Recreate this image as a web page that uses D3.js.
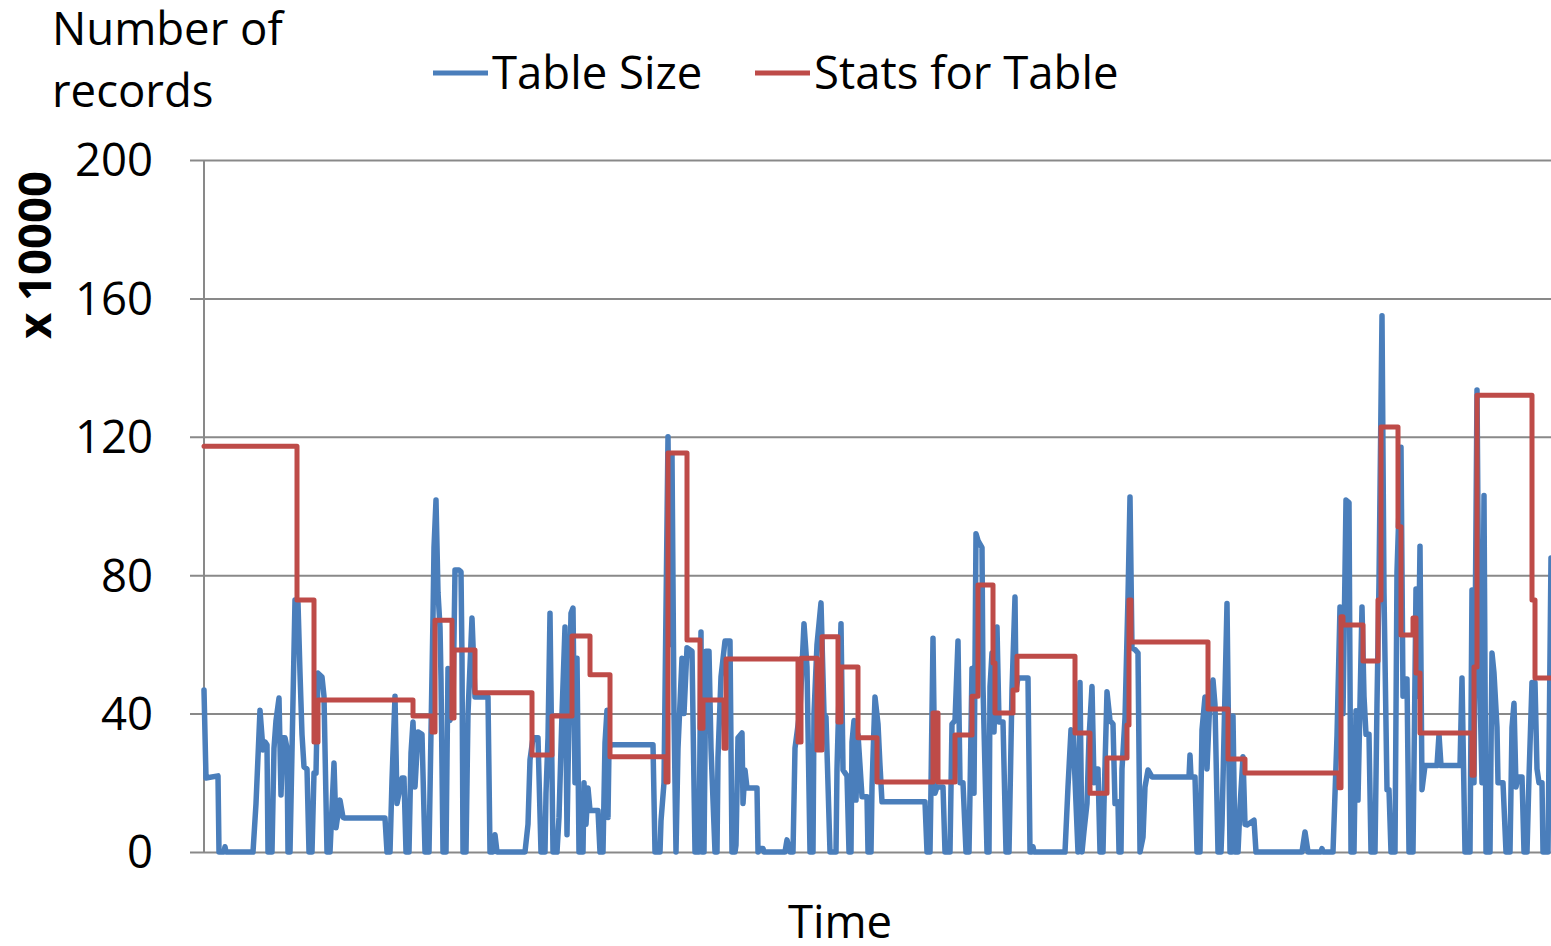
<!DOCTYPE html>
<html>
<head>
<meta charset="utf-8">
<script src="https://cdn.jsdelivr.net/npm/d3@7"></script>
<style>
  html, body { margin: 0; padding: 0; background: #fff; }
  svg { display: block; }
  text { font-family: "Open Sans", sans-serif; fill: #000; }
</style>
</head>
<body>
<svg id="chart" width="1551" height="946"></svg>
<script>
// Table size samples: [time index, records x 10000]
const tableSize = [
  [0,46.8],[2,21.4],[14,22],[15,0],[20,0],[21,1.5],[22,0],[49,0],[52,14],[56,41],[59,29.5],[61,31.8],[63,31],[64,0],
  [68,0],[70,30],[72,38],[75,44.5],[77,16.5],[79,33],[81,33],[83,30],[84,0],[86,0],[91,72.8],[94,72],[96,51.7],
  [98,34],[100,24.6],[103,24],[105,0],[108,0],[110,22.8],[112,22.8],[114,51.7],[118,50.6],[120,45],[123,0],[126,0],
  [130,25.7],[132,7],[136,15],[139,10],[141,9.8],[181,9.8],[183,0],[186,0],[188,20.8],[191,45],[193,14],[198,21.4],
  [200,21.4],[202,0],[205,0],[207,28.6],[209,37.6],[211,18.8],[214,34.7],[218,34],[221,0],
  [225,0],[227,34.7],[229,68],[230,88],[232,101.7],[234,75],[236,65],[237,50],[239,0],[242,0],[244,53],[246,38],[249,42],
  [251,81.5],[255,81.5],[257,81],[258,56],[259,0],[262,0],[264,40],[268,67.6],[271,44.8],[284,44.8],[286,0],[289,0],
  [291,5],[293,0],[321,0],[324,8],[326,26.6],[329,33],[334,33],[337,0],[341,0],[342,17],[344,33],[346,69],[349,0],
  [353,0],[355,10],[358,40],[361,65],[363,5],[365,40],[367,69],[369,70.5],[371,20],[373,56],[375,0],[379,0],[380,20],
  [382,8],[384,18.5],[386,12],[394,12],[396,0],[399,0],[401,31.5],[403,41],[404,10],[405,30],[407,31],[449,31],[451,0],
  [456,0],[457,9],[460,20],[464,120],[466,60],[468,115],[470,40],[472,0],[474,30],[478,56],[480,40],[483,59],[488,58],
  [491,0],[495,0],[497,63.6],[498,0],[500,0],[502,58],[505,58],[507,30],[511,0],[513,0],[514,27.5],[517,50.6],[521,61],
  [526,61],[528,0],[531,0],[532,2],[534,33],[538,34.4],[539,14],[541,23.7],[543,18.5],[553,18.5],[554,0],[556,1],[559,1],
  [560,0],[581,0],[583,3.5],[586,0],[589,0],[591,30],[596,41],[600,66],[603,53.5],[606,0],[609,0],[610,40],[613,60],
  [617,72],[620,40],[622,39],[626,0],[632,0],[633,24],[637,66],[639,23.7],[643,22],[645,0],[647,0],[648,31.8],[650,38],
  [652,15],[654,34],[658,16],[663,16],[664,0],[667,0],[668,18.8],[671,44.8],[674,37],[676,25],[678,14.5],[721,14.5],
  [723,0],[726,0],[727,18.8],[729,61.8],[731,17],[733,18.8],[739,18.8],[741,0],[746,0],[748,37],[751,38],[754,61],
  [756,20],[759,20],[762,0],[765,0],[766,17],[768,53],[770,17],[772,92],[774,90],[778,88],[779,47.8],[783,0],[785,0],
  [786,47.8],[788,57.5],[790,34.7],[793,65],[795,37.6],[799,37.6],[802,0],[805,0],[808,46.8],[811,73.7],[812,47],
  [814,50.3],[824,50.3],[826,0],[828,0],[829,1.5],[830,0],[861,0],[864,18.8],[867,35.3],[869,35],[874,0],[876,49],
  [878,0],[880,6],[883,14],[885,33],[888,47.8],[890,20],[892,24],[894,24],[896,0],[899,0],[900,14],[903,46.3],[906,38],
  [909,37],[911,14],[914,14.5],[915,0],[917,0],[918,24],[921,38.7],[924,73.7],[926,102.6],[928,59],[931,58.5],
  [934,57.5],[936,0],[939,4.3],[941,18.8],[944,23.7],[948,21.7],[985,21.7],[986,28],[987,21.7],[991,21.7],[993,0],
  [996,0],[998,35.3],[1001,44.8],[1003,24],[1006,44.8],[1009,49.7],[1011,42.5],[1014,0],[1017,0],[1018,8],[1023,71.8],
  [1026,0],[1028,0],[1029,39.3],[1031,0],[1034,0],[1036,13],[1039,27.5],[1041,8],[1043,7.8],[1050,9.2],[1052,0],
  [1098,0],[1101,5.8],[1104,0],[1117,0],[1118,1],[1119,0],[1129,0],[1133,33.5],[1136,70.8],[1139,40],[1142,101.7],
  [1145,101],[1147,0],[1150,0],[1152,40.8],[1154,15],[1158,70.8],[1160,45],[1162,34],[1165,34],[1167,0],[1171,0],
  [1173,43],[1175,78],[1178,155],[1180,75],[1183,18],[1185,18],[1187,0],[1191,0],[1193,81],[1197,117],[1199,45],
  [1201,50],[1203,50],[1205,0],[1209,0],[1212,76],[1214,45],[1216,88.4],[1218,18],[1221,25],[1233,25],[1235,34],
  [1237,25],[1256,25],[1258,50.3],[1261,0],[1266,0],[1268,75.7],[1270,20],[1273,133.5],[1275,60],[1278,20],[1280,103],
  [1282,0],[1286,0],[1288,57.5],[1290,51.7],[1293,36],[1294,20],[1299,20],[1302,0],[1306,0],[1308,36],[1310,43],
  [1312,18.8],[1314,21.7],[1318,21.7],[1320,0],[1323,0],[1325,21.7],[1328,49],[1331,49],[1333,24],[1335,20],[1338,20],
  [1339,0],[1344,0],[1347,85]
];

// Statistics snapshots: [time index from which it applies, records x 10000]
const statsForTable = [
  [0,117.3],[93,72.8],[110,31.8],[114,43.9],[209,39.3],[228,34.7],[231,67],[248,38.7],[250,58.4],[271,46],
  [328,28],[348,39.3],[368,62.4],[386,51.2],[406,27.5],[462,20.2],[464,115.3],[483,61.3],[496,35.8],[499,43.9],
  [520,30],[522,55.8],[594,31.8],[597,56],[613,29.5],[618,62.2],[634,37.6],[637,53.5],[654,33],[673,20.2],
  [729,40.2],[734,20.2],[751,33.8],[768,45],[774,77.2],[789,54.6],[791,40.2],[809,46.8],[813,56.6],[871,34.4],
  [886,17],[903,27.2],[923,36.7],[925,72.8],[927,60.7],[1004,41.3],[1024,26.9],[1041,22.8],[1135,18.6],[1137,68],
  [1139,65.6],[1159,55.2],[1174,72.8],[1177,122.8],[1194,94],[1197,62.7],[1209,67.6],[1212,51.7],[1216,34.4],
  [1268,22.2],[1270,53.5],[1273,132],[1328,72.8],[1331,50.3],[1347,50.3]
];

const yTicks = [0, 40, 80, 120, 160, 200];
const seriesNames = ["Table Size", "Stats for Table"];
const seriesColors = ["#4a7ebb", "#be4b48"];

const svg = d3.select("#chart");
const margin = { left: 204, right: 0, top: 160, bottom: 94 };
const W = 1551, H = 946;
const plotW = W - margin.left - margin.right;
const plotH = H - margin.top - margin.bottom;

const x = d3.scaleLinear().domain([0, 1347]).range([0, plotW]);
const y = d3.scaleLinear().domain([0, 200]).range([plotH, 0]);

const g = svg.append("g").attr("transform", `translate(${margin.left},${margin.top})`);

// Horizontal gridlines with short outward ticks and value labels
const yAxis = g.append("g")
  .call(d3.axisLeft(y).tickValues(yTicks).tickSize(-plotW).tickPadding(51).tickFormat(d3.format("d")));
yAxis.select(".domain").remove();
yAxis.selectAll(".tick line").attr("x1", -14).attr("stroke", "#898989").attr("stroke-width", 2);
yAxis.selectAll(".tick text")
  .attr("font-size", 45.5).attr("font-family", "Open Sans, sans-serif").attr("fill", "#000")
  .attr("dy", "0.35em");

// Vertical axis line
g.append("line").attr("x1", 0).attr("x2", 0).attr("y1", y(200)).attr("y2", y(0))
  .attr("stroke", "#898989").attr("stroke-width", 2);

// Series lines
const tableLine = d3.line().x((d) => x(d[0])).y((d) => y(d[1])).curve(d3.curveLinear);
const statsLine = d3.line().x((d) => x(d[0])).y((d) => y(d[1])).curve(d3.curveStepAfter);

g.append("path").datum(tableSize).attr("d", tableLine)
  .attr("fill", "none").attr("stroke", seriesColors[0]).attr("stroke-width", 5.5)
  .attr("stroke-linejoin", "round").attr("stroke-linecap", "round");
g.append("path").datum(statsForTable).attr("d", statsLine)
  .attr("fill", "none").attr("stroke", seriesColors[1]).attr("stroke-width", 5)
  .attr("stroke-linejoin", "round").attr("stroke-linecap", "round");

// Axis titles
svg.append("text").attr("x", 52).attr("y", 45).attr("font-size", 45.5).text("Number of");
svg.append("text").attr("x", 52).attr("y", 107).attr("font-size", 45.5).text("records");
svg.append("text")
  .attr("transform", "translate(51,255) rotate(-90)")
  .attr("text-anchor", "middle").attr("font-size", 45.5).attr("font-weight", "bold")
  .text("x 10000");
svg.append("text").attr("x", 840).attr("y", 938).attr("text-anchor", "middle")
  .attr("font-size", 45.5).text("Time");

// Legend
const legendX = [433, 755];
seriesNames.forEach((name, i) => {
  const lg = svg.append("g").attr("transform", `translate(${legendX[i]},73)`);
  lg.append("line").attr("x1", 0).attr("x2", 55).attr("y1", 0).attr("y2", 0)
    .attr("stroke", seriesColors[i]).attr("stroke-width", 5);
  lg.append("text").attr("x", 59).attr("y", 16).attr("font-size", 45.5).text(name);
});
</script>
</body>
</html>
